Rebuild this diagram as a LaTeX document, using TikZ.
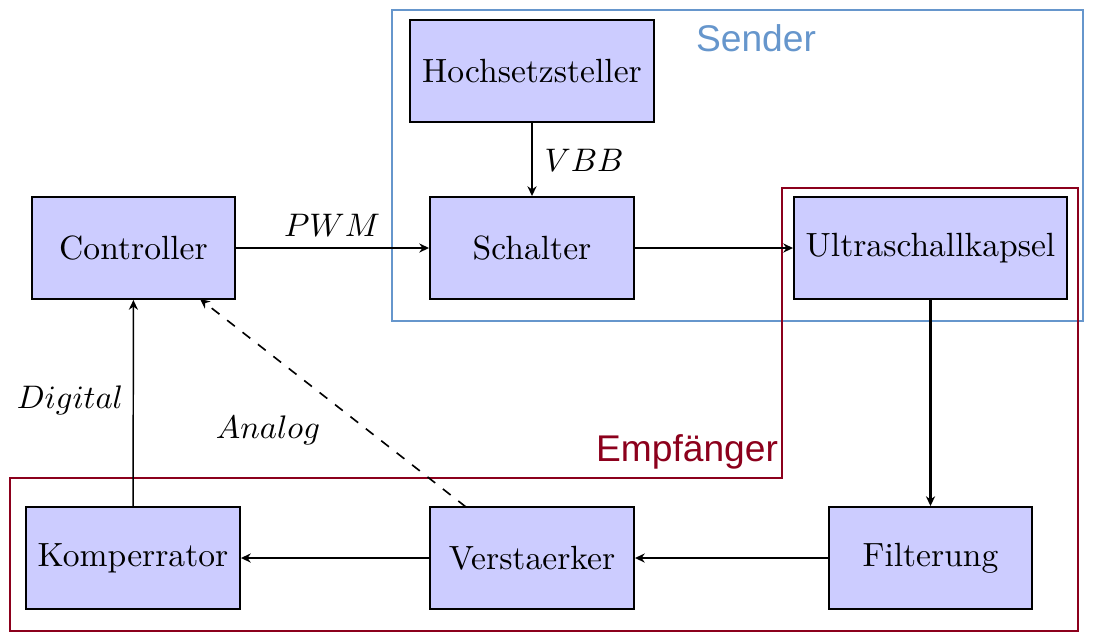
\documentclass[tikz,border=0pt]{standalone}
\usepackage{fontspec}
\newfontfamily\labelfont{Liberation Sans}
\usetikzlibrary{arrows.meta}
\definecolor{boxfill}{RGB}{204,204,255}
\definecolor{sendcol}{RGB}{102,150,204}
\definecolor{empfcol}{RGB}{140,0,28}
\tikzset{
  blk/.style={draw=black, semithick, fill=boxfill, inner sep=2pt, minimum height=31.28pt, font=\fontsize{10.3}{12}\selectfont},
  conn/.style={-{Stealth[length=3pt,width=2.8pt]}, line width=0.45pt},
  lbl/.style={font=\fontsize{10.3}{12}\selectfont},
  grouplbl/.style={font=\labelfont\fontsize{11.4}{13}\selectfont}
}
\begin{document}
\begin{tikzpicture}[x=0.3067pt,y=-0.3067pt]
\useasboundingbox (0,0) rectangle (1111,642);
% groups
\draw[sendcol, thin] (392,10) rectangle (1083,321);
\draw[empfcol, thin] (782,188) -- (1078,188) -- (1078,631) -- (10,631) -- (10,478) -- (782,478) -- cycle;
\node[grouplbl, text=sendcol] (sender) at (756,38) {Sender};
\node[grouplbl, text=empfcol] (empf) at (687,452) {Empfänger};
% blocks
\node[blk, minimum width=74.83pt] (hoch) at (532,71) {Hochsetzsteller};
\node[blk, minimum width=62.26pt] (ctrl) at (133.5,248) {Controller};
\node[blk, minimum width=62.57pt] (sch) at (532,248) {Schalter};
\node[blk, minimum width=83.73pt] (us) at (930.5,248) {Ultraschallkapsel};
\node[blk, minimum width=65.63pt] (komp) at (133,558) {Komperrator};
\node[blk, minimum width=62.57pt] (verst) at (532,558) {Verstaerker};
\node[blk, minimum width=62.26pt] (filt) at (930.5,558) {Filterung};
% connectors
\draw[conn] (hoch) -- (sch);
\node[lbl] (vbb) at (584,160) {$VBB$};
\draw[conn] (ctrl) -- (sch);
\node[lbl] (pwm) at (332,225) {$PWM$};
\draw[conn] (sch) -- (us);
\draw[conn, line width=0.75pt] (us) -- (filt);
\draw[conn] (filt) -- (verst);
\draw[conn] (verst) -- (komp);
\draw[conn] (komp) -- (ctrl);
\node[lbl] (digital) at (70,400) {$Digital$};
\coordinate (vtop) at (466,507);
\coordinate (ctip) at (200,299);
\draw[conn, dashed, line width=0.5pt] (vtop) -- (ctip);
\node[lbl] (analog) at (268,430) {$Analog$};
\end{tikzpicture}
\end{document}
